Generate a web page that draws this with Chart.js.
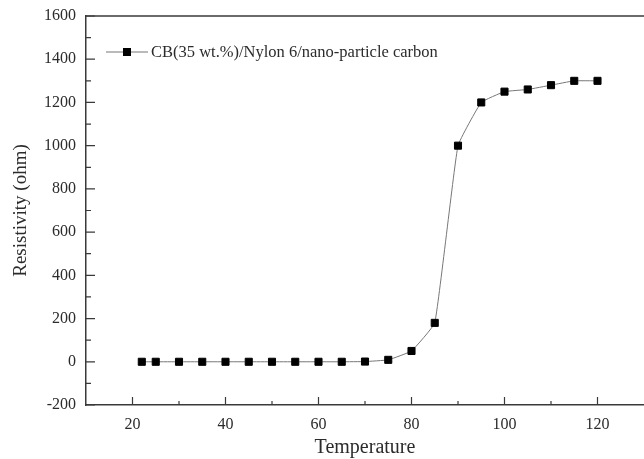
<!DOCTYPE html>
<html>
<head>
<meta charset="utf-8">
<script src="https://cdn.jsdelivr.net/npm/chart.js@4"></script>
<style>
  html, body { margin: 0; padding: 0; background: #fff; overflow: hidden; }
</style>
</head>
<body>
<canvas id="myChart" width="650" height="459"></canvas>
<script>
// data
const temps = [22, 25, 30, 35, 40, 45, 50, 55, 60, 65, 70, 75, 80, 85, 90, 95, 100, 105, 110, 115, 120];
const resistivity = [0, 0, 0, 0, 0, 0, 0, 0, 0, 0, 1, 9, 50, 180, 1000, 1200, 1250, 1260, 1280, 1300, 1300];
const seriesLabel = 'CB(35 wt.%)/Nylon 6/nano-particle carbon';
const xTicks = [20, 40, 60, 80, 100, 120];
const yTicks = [-200, 0, 200, 400, 600, 800, 1000, 1200, 1400, 1600];

const axisColor = '#3a3a3a';
const textColor = '#2b2b2b';
const serif = "'Liberation Serif', 'Times New Roman', serif";

// inward tick marks, top frame line and the legend
const framePlugin = {
  id: 'frame',
  afterDraw(chart) {
    const ctx = chart.ctx;
    const area = chart.chartArea;
    const xs = chart.scales.x;
    const ys = chart.scales.y;
    ctx.save();
    ctx.strokeStyle = axisColor;
    ctx.lineWidth = 1.5;
    ctx.beginPath();
    ctx.moveTo(area.left, area.top);
    ctx.lineTo(area.right, area.top);
    ctx.stroke();

    ctx.lineWidth = 1.2;
    ctx.beginPath();
    yTicks.forEach((v, i) => {
      const y = ys.getPixelForValue(v);
      ctx.moveTo(area.left, y);
      ctx.lineTo(area.left + 9, y);
      if (i < yTicks.length - 1) {
        const ym = ys.getPixelForValue((v + yTicks[i + 1]) / 2);
        ctx.moveTo(area.left, ym);
        ctx.lineTo(area.left + 5, ym);
      }
    });
    xTicks.forEach((v, i) => {
      const x = xs.getPixelForValue(v);
      ctx.moveTo(x, area.bottom);
      ctx.lineTo(x, area.bottom - 8);
      if (i < xTicks.length - 1) {
        const xm = xs.getPixelForValue((v + xTicks[i + 1]) / 2);
        ctx.moveTo(xm, area.bottom);
        ctx.lineTo(xm, area.bottom - 4);
      }
    });
    ctx.stroke();

    // legend
    const ly = area.top + 36;
    const lx = area.left + 20;
    ctx.strokeStyle = '#777';
    ctx.lineWidth = 1;
    ctx.beginPath();
    ctx.moveTo(lx, ly);
    ctx.lineTo(lx + 42, ly);
    ctx.stroke();
    ctx.fillStyle = '#000';
    ctx.fillRect(lx + 17, ly - 4, 8, 8);
    ctx.fillStyle = textColor;
    ctx.font = '16.5px ' + serif;
    ctx.textBaseline = 'middle';
    ctx.fillText(seriesLabel, lx + 45, ly + 1);
    ctx.restore();
  }
};

let myChart;
function initChart() {
  const ctx = document.getElementById('myChart');
  myChart = new Chart(ctx, {
    type: 'line',
    data: {
      datasets: [{
        label: seriesLabel,
        data: temps.map((t, i) => ({ x: t, y: resistivity[i] })),
        borderColor: '#777',
        borderWidth: 1,
        tension: 0.1,
        pointStyle: 'rect',
        pointRadius: 5,
        pointBorderWidth: 1,
        pointBackgroundColor: '#000',
        pointBorderColor: '#000'
      }]
    },
    options: {
      responsive: false,
      animation: false,
      devicePixelRatio: 1,
      layout: { padding: { top: 16, right: 4, left: 0, bottom: 0 } },
      plugins: { legend: { display: false }, tooltip: { enabled: false } },
      scales: {
        x: {
          type: 'linear',
          min: 10,
          max: 130,
          afterBuildTicks: (s) => { s.ticks = xTicks.map(v => ({ value: v })); },
          afterFit: (s) => { s.height = 54; },
          grid: { display: false },
          border: { display: true, color: axisColor, width: 1.5 },
          ticks: { color: textColor, font: { family: serif, size: 16 }, padding: 2, maxRotation: 0,
                   callback: (v) => String(v) },
          title: { display: true, text: 'Temperature', color: textColor,
                   font: { family: serif, size: 20, lineHeight: 1 }, padding: { top: 0, bottom: 1 } }
        },
        y: {
          min: -200,
          max: 1600,
          afterBuildTicks: (s) => { s.ticks = yTicks.map(v => ({ value: v })); },
          afterFit: (s) => { s.width = 86; },
          grid: { display: false },
          border: { display: true, color: axisColor, width: 1.5 },
          ticks: { color: textColor, font: { family: serif, size: 16 }, padding: 2,
                   callback: (v) => String(v) },
          title: { display: true, text: 'Resistivity (ohm)', color: textColor,
                   font: { family: serif, size: 19, lineHeight: 1 }, padding: { top: 12, bottom: 0 } }
        }
      }
    },
    plugins: [framePlugin]
  });
}

document.addEventListener('DOMContentLoaded', () => initChart());
</script>
</body>
</html>
